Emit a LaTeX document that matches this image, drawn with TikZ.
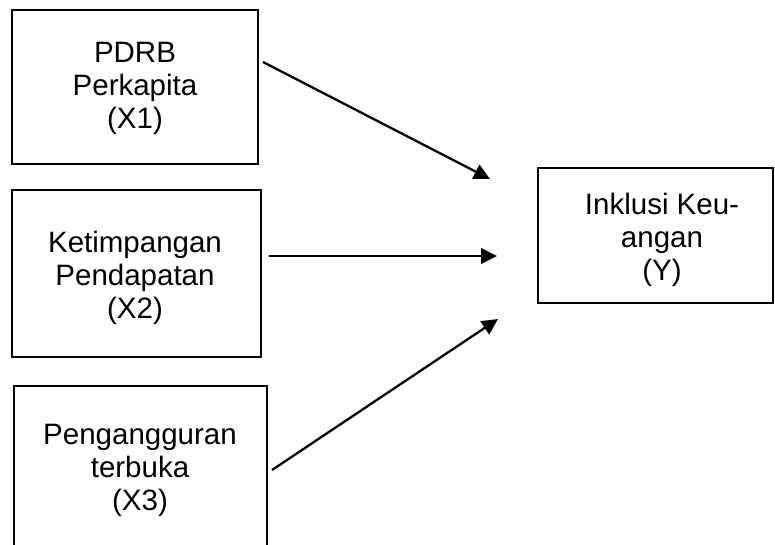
\documentclass[tikz,border=0pt]{standalone}
\usepackage{fontspec}
\setmainfont{Liberation Sans}
\usetikzlibrary{arrows.meta}
\begin{document}
\begin{tikzpicture}[x=1pt,y=-1pt,
  box/.style={draw=black,line width=2.5pt,inner sep=0pt,outer sep=0pt,rectangle},
  lbl/.style={align=center,inner sep=0pt,font=\fontsize{29.5}{33}\selectfont},
  conn/.style={line width=2.3pt,-{Triangle[length=16pt,width=15.5pt]}}]
\useasboundingbox (0,0) rectangle (775,544);
\fill[white] (0,0) rectangle (775,544);
\begin{scope}
\clip (0,0) rectangle (775,544);
\node[box,minimum width=246pt,minimum height=154pt] (b1) at (135,87) {};
\node[box,minimum width=249pt,minimum height=167pt] (b2) at (136.5,273.5) {};
\node[box,minimum width=253pt,minimum height=170pt] (b3) at (140.5,471) {};
\node[box,minimum width=235pt,minimum height=135pt] (by) at (655.5,235.5) {};
\end{scope}
\node[lbl] (t1) at (135,88.5) {PDRB\\Perkapita\\(X1)};
\node[lbl] (t2) at (135,277.5) {Ketimpangan\\Pendapatan\\(X2)};
\node[lbl] (t3) at (140,470) {Pengangguran\\terbuka\\(X3)};
\node[lbl] (ty) at (662,239.5) {Inklusi Keu-\\angan\\(Y)};
\coordinate (s1) at (263,62);
\coordinate (e1) at (490,179);
\coordinate (s2) at (269,256);
\coordinate (e2) at (497,256);
\coordinate (s3) at (272,470);
\coordinate (e3) at (498,319);
\draw[conn] (s1) -- (e1);
\draw[conn] (s2) -- (e2);
\draw[conn] (s3) -- (e3);
\end{tikzpicture}
\end{document}
